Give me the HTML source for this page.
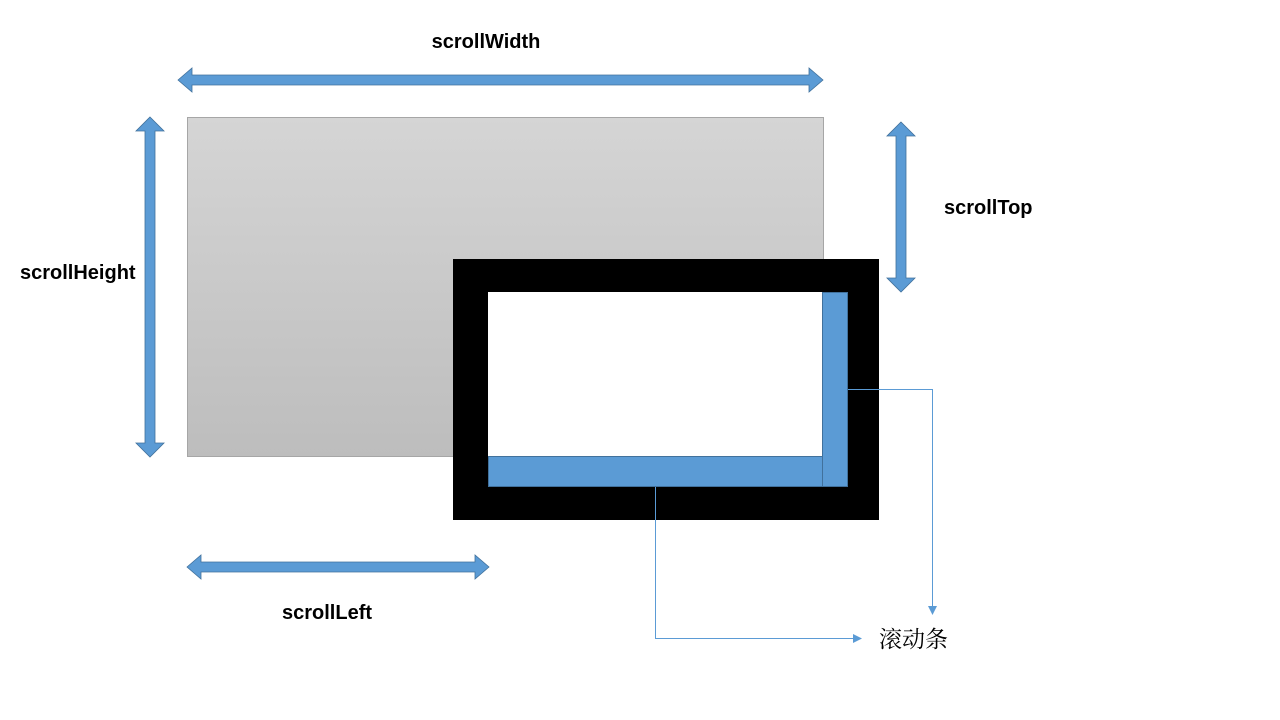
<!DOCTYPE html>
<html><head><meta charset="utf-8"><style>
html,body{margin:0;padding:0;background:#fff;width:1280px;height:720px;overflow:hidden}
svg{display:block}
text.l{font-family:"Liberation Sans",sans-serif;font-weight:bold;font-size:20px;fill:#000}
</style></head><body>
<svg width="1280" height="720" viewBox="0 0 1280 720">
<defs>
<linearGradient id="g" x1="0" y1="0" x2="0" y2="1"><stop offset="0" stop-color="#d5d5d5"/><stop offset="1" stop-color="#bdbdbd"/></linearGradient>
<marker id="ah" markerWidth="9" markerHeight="9" refX="8" refY="4.5" orient="auto" markerUnits="userSpaceOnUse"><path d="M0,0 L9,4.5 L0,9 Z" fill="#5b9bd5"/></marker>
</defs>
<rect x="187.5" y="117.5" width="636" height="339" fill="url(#g)" stroke="#a6a6a6"/>
<rect x="453" y="259" width="426" height="261" fill="#000"/>
<rect x="488" y="292" width="360" height="195" fill="#fff"/>
<rect x="488.5" y="456.5" width="334" height="30" fill="#5b9bd5" stroke="#41719c" stroke-width="1"/>
<rect x="822.5" y="292.5" width="25" height="194" fill="#5b9bd5" stroke="#41719c" stroke-width="1"/>
<path d="M178,80 L192,68 L192,75 L809,75 L809,68 L823,80 L809,92 L809,85 L192,85 L192,92 Z" fill="#5b9bd5" stroke="#41719c" stroke-width="0.8"/>
<path d="M150,117 L164,131 L155,131 L155,443 L164,443 L150,457 L136,443 L145,443 L145,131 L136,131 Z" fill="#5b9bd5" stroke="#41719c" stroke-width="0.8"/>
<path d="M901,122 L915,136 L906,136 L906,278 L915,278 L901,292 L887,278 L896,278 L896,136 L887,136 Z" fill="#5b9bd5" stroke="#41719c" stroke-width="0.8"/>
<path d="M187,567 L201,555 L201,562 L475,562 L475,555 L489,567 L475,579 L475,572 L201,572 L201,579 Z" fill="#5b9bd5" stroke="#41719c" stroke-width="0.8"/>
<polyline points="848,389.5 932.5,389.5 932.5,614" fill="none" stroke="#5b9bd5" stroke-width="1" marker-end="url(#ah)"/>
<polyline points="655.5,487 655.5,638.5 861,638.5" fill="none" stroke="#5b9bd5" stroke-width="1" marker-end="url(#ah)"/>
<text class="l" x="486" y="48" text-anchor="middle">scrollWidth</text>
<text class="l" x="20" y="279">scrollHeight</text>
<text class="l" x="944" y="214">scrollTop</text>
<text class="l" x="282" y="619">scrollLeft</text>
<text x="879" y="647" font-family="'Liberation Serif','Noto Serif CJK SC',serif" font-size="23" fill="#000">滚动条</text>
</svg>
</body></html>
